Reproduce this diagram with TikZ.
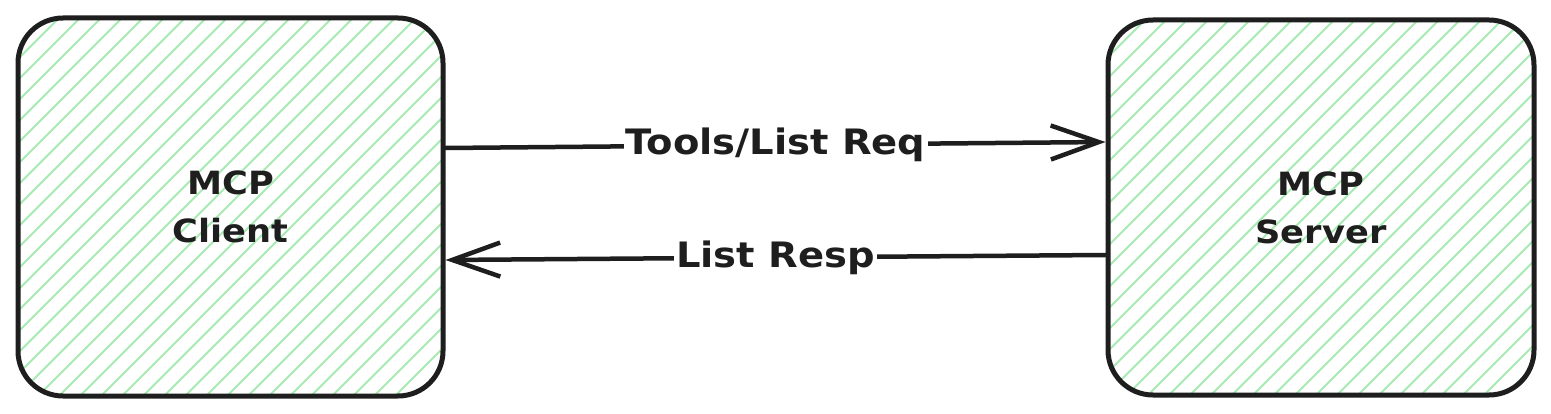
\documentclass[tikz,border=0pt]{standalone}
\usepackage{fontspec}
\setmainfont[FakeStretch=1.1]{DejaVu Sans}
\usetikzlibrary{arrows.meta}
\definecolor{hatch}{HTML}{A8EBB2}
\definecolor{ink}{HTML}{1E1E1E}
\tikzset{
  boxnode/.style={draw=ink, line width=5pt, rounded corners=45pt, minimum width=425pt, minimum height=378pt,
    inner sep=0pt, align=center, text=ink, font=\bfseries\fontsize{32}{48}\selectfont},
  conn/.style={draw=ink, line width=4.5pt, line cap=round, -{Straight Barb[length=48pt,width=34pt,line width=4.5pt]}},
  lbl/.style={fill=white, inner sep=2pt, text=ink, font=\bfseries\fontsize{35}{40}\selectfont},
  hatchline/.style={draw=hatch, line width=2pt}
}
\begin{document}
\begin{tikzpicture}[x=1pt,y=-1pt]
\useasboundingbox[fill=white] (0,0) rectangle (1551,414);
% hatching
\begin{scope}
  \clip[rounded corners=45pt] (18,17) rectangle (443,397);
  \foreach \k in {-380,-359,...,440} {
    \draw[hatchline] (18+\k,397) -- (18+\k+380,17);
  }
\end{scope}
\begin{scope}
  \clip[rounded corners=45pt] (1108,20) rectangle (1534,395);
  \foreach \k in {-380,-359,...,440} {
    \draw[hatchline] (1108+\k,395) -- (1108+\k+375,20);
  }
\end{scope}
\node[boxnode] (client) at (230.5,207) {MCP\\Client};
\node[boxnode, minimum width=426pt, minimum height=375pt] (server) at (1321,207.5) {MCP\\Server};
\draw[conn] (client.east |- 0,148) -- node[lbl] {Tools/List Req} (server.west |- 0,142);
\draw[conn] (server.west |- 0,255) -- node[lbl] {List Resp} (client.east |- 0,260);
\end{tikzpicture}
\end{document}
